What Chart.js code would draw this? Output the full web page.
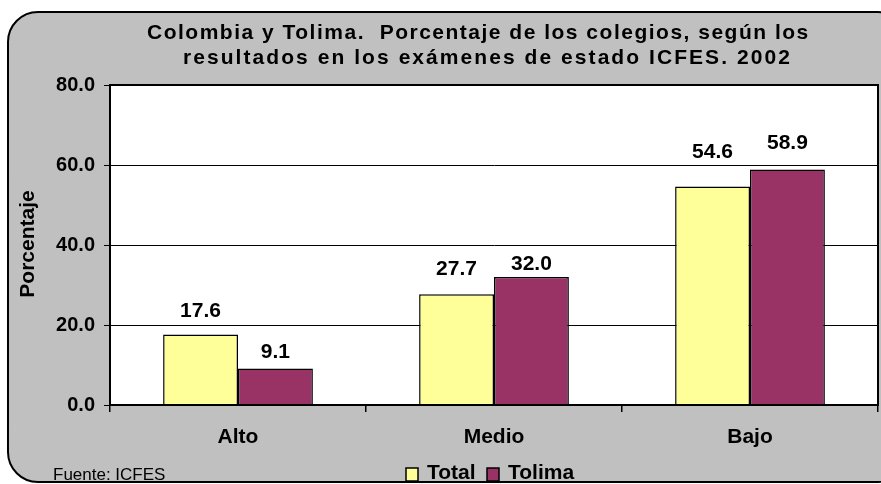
<!DOCTYPE html>
<html>
<head>
<meta charset="utf-8">
<script src="https://cdn.jsdelivr.net/npm/chart.js@4"></script>
<style>
  html, body { margin: 0; padding: 0; background: #ffffff; }
  #wrap { width: 881px; height: 484px; position: relative; }
</style>
</head>
<body>
<div id="wrap"><canvas id="chart" width="881" height="484"></canvas></div>
<script>
// -- DATA ----------------------------------------------
const categories = ["Alto", "Medio", "Bajo"];
const totalValues = [17.6, 27.7, 54.6];
const tolimaValues = [9.1, 32.0, 58.9];
const seriesNames = ["Total", "Tolima"];
const titleLines = [
  "Colombia y Tolima.  Porcentaje de los colegios, según los",
  "resultados en los exámenes de estado ICFES. 2002"
];
const yAxisTitle = "Porcentaje";
const sourceNote = "Fuente: ICFES";

// -- STYLE ---------------------------------------------
const FONT = "'Liberation Sans', Arial, sans-serif";
const colors = ["#FFFF99", "#993366"];
// gap between bar top and label baseline (labels were hand-placed in the original)
const labelGaps = [[18, 19, 29], [11, 7, 20]];

function spacedText(ctx, text, x, y, width) {
  ctx.letterSpacing = "0px";
  const natural = ctx.measureText(text).width;
  const sp = (width - natural) / (text.length - 1);
  ctx.letterSpacing = sp.toFixed(2) + "px";
  ctx.fillText(text, x, y);
  ctx.letterSpacing = "0px";
}

// -- PLUGIN: frame, plot background, texts ------------
const decorPlugin = {
  id: "decor",
  beforeDraw(chart) {
    const { ctx, chartArea: a } = chart;
    ctx.save();
    // rounded gray frame (right side runs off the canvas)
    const x = 8, y = 12, w = 900, h = 470, r = 30;
    ctx.beginPath();
    ctx.moveTo(x + r, y);
    ctx.lineTo(x + w - r, y);
    ctx.arcTo(x + w, y, x + w, y + r, r);
    ctx.lineTo(x + w, y + h - r);
    ctx.arcTo(x + w, y + h, x + w - r, y + h, r);
    ctx.lineTo(x + r, y + h);
    ctx.arcTo(x, y + h, x, y + h - r, r);
    ctx.lineTo(x, y + r);
    ctx.arcTo(x, y, x + r, y, r);
    ctx.closePath();
    ctx.fillStyle = "#C0C0C0";
    ctx.fill();
    ctx.lineWidth = 2;
    ctx.strokeStyle = "#000";
    ctx.stroke();
    // plot area
    ctx.fillStyle = "#FFFFFF";
    ctx.fillRect(a.left, a.top, a.right - a.left, a.bottom - a.top);
    ctx.restore();
  },
  afterDatasetsDraw(chart) {
    const { ctx, chartArea: a } = chart;
    ctx.save();
    // plot border
    ctx.strokeStyle = "#000";
    ctx.lineWidth = 2;
    ctx.strokeRect(a.left, a.top, a.right - a.left, a.bottom - a.top);

    // value labels
    ctx.fillStyle = "#000";
    ctx.font = "bold 21px " + FONT;
    ctx.textAlign = "center";
    ctx.textBaseline = "alphabetic";
    chart.data.datasets.forEach((ds, i) => {
      chart.getDatasetMeta(i).data.forEach((bar, j) => {
        ctx.fillText(ds.data[j].toFixed(1), bar.x, bar.y - labelGaps[i][j]);
      });
    });

    // title
    ctx.textAlign = "left";
    ctx.font = "bold 21px " + FONT;
    spacedText(ctx, titleLines[0], 147, 39, 661);
    spacedText(ctx, titleLines[1], 183, 64, 607);

    // y axis title
    ctx.save();
    ctx.translate(34, 244);
    ctx.rotate(-Math.PI / 2);
    ctx.textAlign = "center";
    ctx.font = "bold 21px " + FONT;
    ctx.fillText(yAxisTitle, 0, 0);
    ctx.restore();

    // source
    ctx.font = "17px " + FONT;
    ctx.fillText(sourceNote, 53, 480);

    // legend
    ctx.font = "bold 21px " + FONT;
    const lx = [406, 487];
    seriesNames.forEach((name, i) => {
      ctx.fillStyle = colors[i];
      ctx.fillRect(lx[i], 468, 12, 13);
      ctx.strokeStyle = "#000";
      ctx.lineWidth = 1.5;
      ctx.strokeRect(lx[i], 468, 12, 13);
      ctx.fillStyle = "#000";
      ctx.fillText(name, lx[i] + 21, 479);
    });
    ctx.restore();
  }
};

// -- RENDER --------------------------------------------
new Chart(document.getElementById("chart"), {
  type: "bar",
  data: {
    labels: categories,
    datasets: [
      {
        label: seriesNames[0],
        data: totalValues,
        backgroundColor: colors[0],
        borderColor: "#000",
        borderWidth: 1.5
      },
      {
        label: seriesNames[1],
        data: tolimaValues,
        backgroundColor: colors[1],
        borderColor: "#000",
        borderWidth: 1.5
      }
    ]
  },
  options: {
    responsive: false,
    animation: false,
    layout: { padding: { top: 85, right: 3, left: 0, bottom: 0 } },
    categoryPercentage: 0.585,
    barPercentage: 1,
    plugins: {
      legend: { display: false },
      title: { display: false },
      tooltip: { enabled: false }
    },
    scales: {
      x: {
        afterFit(s) { s.height = 79; },
        grid: { drawOnChartArea: false, drawTicks: true, tickLength: 7, color: "#000", lineWidth: 1.5 },
        border: { color: "#000", width: 2 },
        ticks: { color: "#000", font: { family: FONT, size: 21, weight: "bold" }, padding: 13 }
      },
      y: {
        min: 0,
        max: 80,
        afterFit(s) { s.width = 110; },
        ticks: {
          stepSize: 20,
          color: "#000",
          padding: 9,
          font: { family: FONT, size: 20, weight: "bold" },
          callback: (v) => v.toFixed(1)
        },
        grid: { color: "#000", lineWidth: 1, tickLength: 6 },
        border: { color: "#000", width: 2 }
      }
    }
  },
  plugins: [decorPlugin]
});
</script>
</body>
</html>
